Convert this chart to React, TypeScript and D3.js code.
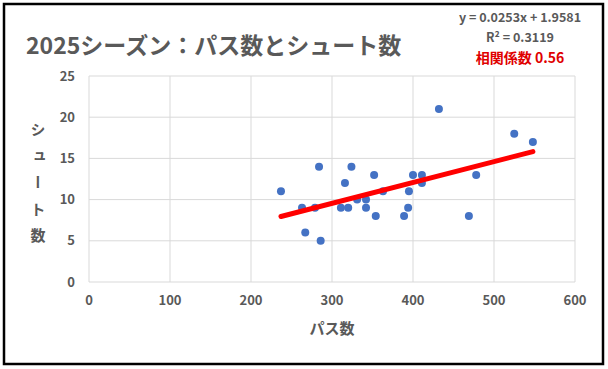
import { useRef, useEffect } from "react";
import * as d3 from "d3";

// パス数 / シュート数
const passes = [237, 263, 279, 284, 267, 286, 311, 320, 316, 324, 331, 342, 342, 352, 354, 363, 389, 394, 395, 400, 411, 411, 432, 469, 478, 525, 548];
const shots = [11, 9, 9, 14, 6, 5, 9, 9, 12, 14, 10, 10, 9, 13, 8, 11, 8, 9, 11, 13, 13, 12, 21, 8, 13, 18, 17];
const xTicks = [0, 100, 200, 300, 400, 500, 600];
const yTicks = [0, 5, 10, 15, 20, 25];
const slope = 0.0253;
const intercept = 1.9581;
const labels = ["y = 0.0253x + 1.9581", "R² = 0.3119", "相関係数 0.56"];

const W = 608;
const H = 369;
const FONT = "'Noto Sans CJK JP', 'Noto Sans', sans-serif";
const GRAY = "#595959";

export default function App() {
  const svgRef = useRef<SVGSVGElement>(null);

  useEffect(() => {
    const svg = d3.select(svgRef.current);
    svg.selectAll("*").remove();

    const x = d3.scaleLinear().domain([0, 600]).range([89, 575]);
    const y = d3.scaleLinear().domain([0, 25]).range([282, 76]);

    svg.append("rect").attr("width", W).attr("height", H).attr("fill", "#fff");
    svg
      .append("rect")
      .attr("x", 4)
      .attr("y", 4)
      .attr("width", 599)
      .attr("height", 360)
      .attr("fill", "#fff")
      .attr("stroke", "#000")
      .attr("stroke-width", 2.5);

    // grid
    svg
      .selectAll("line.vg")
      .data(xTicks)
      .join("line")
      .attr("class", "vg")
      .attr("x1", (d) => x(d))
      .attr("x2", (d) => x(d))
      .attr("y1", y(25))
      .attr("y2", y(0))
      .attr("stroke", "#d9d9d9");
    svg
      .selectAll("line.hg")
      .data(yTicks)
      .join("line")
      .attr("class", "hg")
      .attr("x1", x(0))
      .attr("x2", x(600))
      .attr("y1", (d) => y(d))
      .attr("y2", (d) => y(d))
      .attr("stroke", "#d9d9d9");

    // tick labels
    svg
      .selectAll("text.xt")
      .data(xTicks)
      .join("text")
      .attr("class", "xt")
      .attr("x", (d) => x(d))
      .attr("y", 305)
      .attr("text-anchor", "middle")
      .attr("font-size", 13)
      .attr("font-weight", "bold")
      .attr("font-family", FONT)
      .attr("fill", GRAY)
      .text((d) => d);
    svg
      .selectAll("text.yt")
      .data(yTicks)
      .join("text")
      .attr("class", "yt")
      .attr("x", 75)
      .attr("y", (d) => y(d) + 4.5)
      .attr("text-anchor", "end")
      .attr("font-size", 13)
      .attr("font-weight", "bold")
      .attr("font-family", FONT)
      .attr("fill", GRAY)
      .text((d) => d);

    // points
    svg
      .selectAll("circle.pt")
      .data(passes)
      .join("circle")
      .attr("class", "pt")
      .attr("cx", (d) => x(d))
      .attr("cy", (_, i) => y(shots[i]))
      .attr("r", 4)
      .attr("fill", "#4472c4");

    // trend line
    const x0 = d3.min(passes)!;
    const x1 = d3.max(passes)!;
    svg
      .append("line")
      .attr("x1", x(x0))
      .attr("y1", y(slope * x0 + intercept))
      .attr("x2", x(x1))
      .attr("y2", y(slope * x1 + intercept))
      .attr("stroke", "#ff0000")
      .attr("stroke-width", 5)
      .attr("stroke-linecap", "round");

    // title
    svg
      .append("text")
      .attr("x", 26)
      .attr("y", 54)
      .attr("font-size", 23)
      .attr("font-weight", "bold")
      .attr("font-family", FONT)
      .attr("fill", GRAY)
      .text("2025シーズン：パス数とシュート数");

    // equation labels
    svg
      .selectAll("text.eq")
      .data(labels)
      .join("text")
      .attr("class", "eq")
      .attr("x", 520)
      .attr("y", (_, i) => 22 + i * 20 + (i === 2 ? 1 : 0))
      .attr("text-anchor", "middle")
      .attr("font-size", (_, i) => (i === 2 ? 14 : 12.5))
      .attr("font-weight", "bold")
      .attr("font-family", FONT)
      .attr("fill", (_, i) => (i === 2 ? "#e00000" : GRAY))
      .text((d) => d);

    // axis titles
    svg
      .append("text")
      .attr("x", x(300))
      .attr("y", 334)
      .attr("text-anchor", "middle")
      .attr("font-size", 15)
      .attr("font-weight", "bold")
      .attr("font-family", FONT)
      .attr("fill", GRAY)
      .text("パス数");
    svg
      .append("text")
      .attr("x", 38)
      .attr("y", 122)
      .attr("writing-mode", "vertical-rl")
      .attr("letter-spacing", 11.5)
      .attr("font-size", 15)
      .attr("font-weight", "bold")
      .attr("font-family", FONT)
      .attr("fill", GRAY)
      .text("シュート数");
  }, []);

  return (
    <svg
      ref={svgRef}
      width={W}
      height={H}
      style={{ position: "absolute", left: 0, top: 0, display: "block" }}
    />
  );
}
